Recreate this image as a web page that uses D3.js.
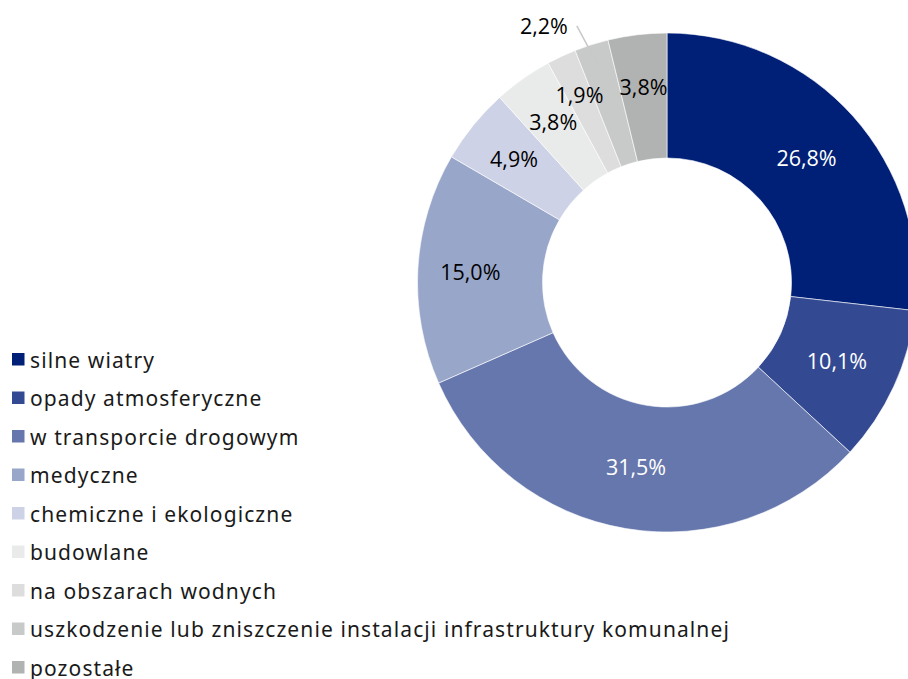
<!DOCTYPE html>
<html><head><meta charset="utf-8">
<script src="https://cdn.jsdelivr.net/npm/d3@7"></script>
<style>body{margin:0;background:#fff}svg{display:block}</style>
</head><body>
<svg id="c" width="908" height="679"></svg>
<script>
const categories = ["silne wiatry","opady atmosferyczne","w transporcie drogowym","medyczne","chemiczne i ekologiczne","budowlane","na obszarach wodnych","uszkodzenie lub zniszczenie instalacji infrastruktury komunalnej","pozostałe"];
const values = [26.8,10.1,31.5,15.0,4.9,3.8,1.9,2.2,3.8];
const labels = ["26,8%","10,1%","31,5%","15,0%","4,9%","3,8%","1,9%","2,2%","3,8%"];
const colors = ["#001f77","#334a93","#6677ad","#98a6ca","#cdd2e6","#e9ebea","#dcdddc","#c8c9c9","#b1b2b2"];
const whiteText = [true,true,true,false,false,false,false,false,false];
const outsideLabel = [false,false,false,false,false,false,false,true,false];

const svg = d3.select("#c");
const cx = 667, cy = 282.5, R = 249.5, r0 = 124.5;
const g = svg.append("g").attr("transform",`translate(${cx},${cy})`);
const data = categories.map((c,i)=>({c,v:values[i],i}));
const pie = d3.pie().value(d=>d.v).sort(null);
const arcs = pie(data);
const arc = d3.arc().innerRadius(r0).outerRadius(R);
g.selectAll("path.s").data(arcs).join("path").attr("class","s")
  .attr("d",arc).attr("fill",d=>colors[d.data.i])
  .attr("stroke","#fff").attr("stroke-width",0.6);

const labelFont = "'Open Sans', 'Noto Sans', sans-serif";
const labelSize = 21.5;
function polar(a, rr){return [Math.sin(a)*rr, -Math.cos(a)*rr];}
arcs.forEach(d=>{
  const i = d.data.i;
  const mid = (d.startAngle+d.endAngle)/2;
  if (outsideLabel[i]) {
    const p1 = polar(mid, 228), p2 = polar(mid - 0.03, 272);
    g.append("line").attr("x1",p1[0]).attr("y1",p1[1]).attr("x2",p2[0]).attr("y2",p2[1])
      .attr("stroke","#c8c8c8").attr("stroke-width",1.5);
    g.append("text").attr("x",p2[0]-9).attr("y",p2[1]).attr("text-anchor","end")
      .attr("dominant-baseline","central").attr("font-family",labelFont).attr("font-size",labelSize)
      .attr("fill","#000").text(labels[i]);
  } else {
    const rr = whiteText[i] ? 187 : (d.data.v < 2 ? 207 : 197);
    const p = polar(mid, rr);
    g.append("text").attr("x",p[0]).attr("y",p[1]).attr("text-anchor","middle")
      .attr("dominant-baseline","central").attr("font-family",labelFont).attr("font-size",labelSize)
      .attr("fill",whiteText[i]?"#fff":"#000").text(labels[i]);
  }
});

const leg = svg.append("g");
const y0 = 359.5, step = 38.5;
categories.forEach((c,i)=>{
  const y = y0 + i*step;
  leg.append("rect").attr("x",12).attr("y",y-6.5).attr("width",12.5).attr("height",12.5).attr("fill",colors[i]);
  leg.append("text").attr("x",30).attr("y",y).attr("dominant-baseline","central")
    .attr("font-family","'Noto Sans', sans-serif").attr("font-size",21).attr("letter-spacing",1.1)
    .attr("fill","#1a1a1a").text(c);
});
</script>
</body></html>
